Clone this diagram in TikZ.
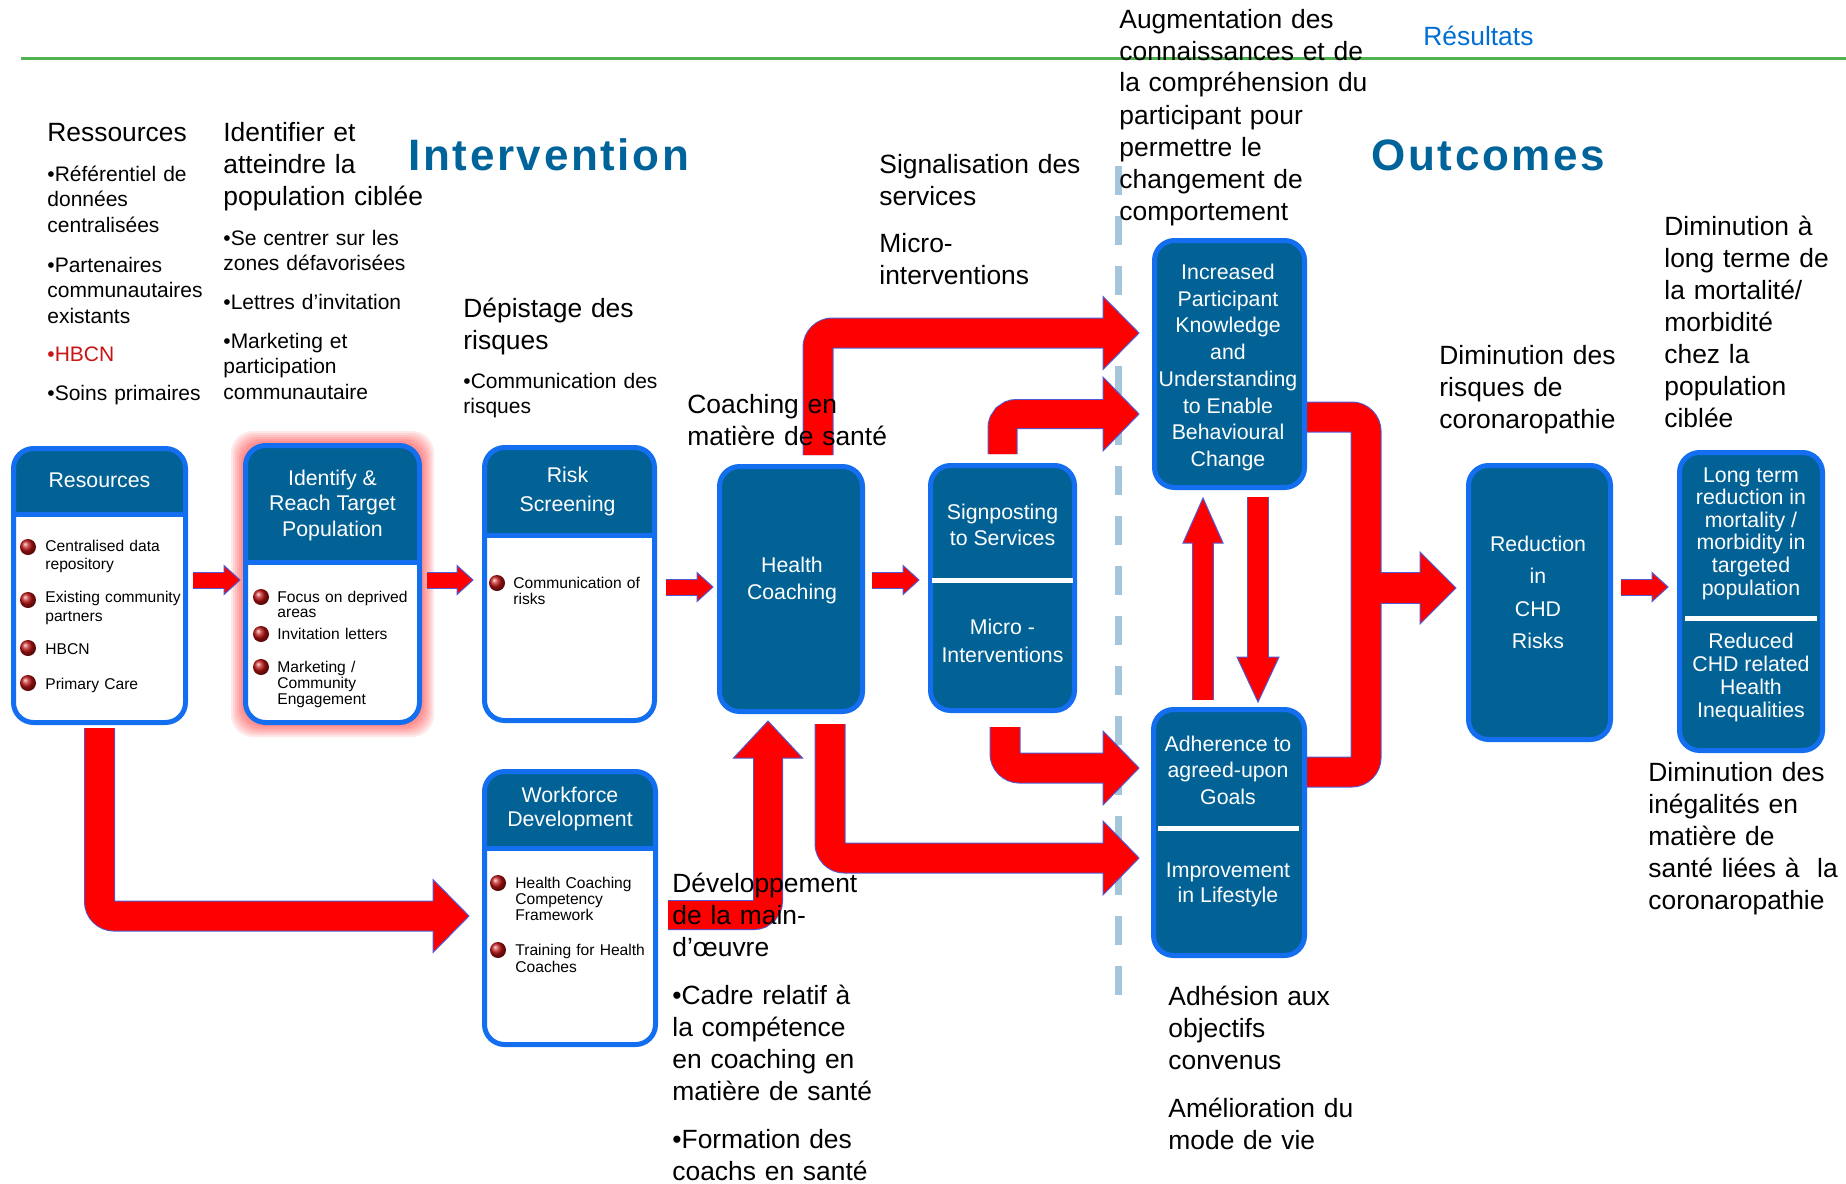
\documentclass[tikz,border=0pt]{standalone}
\usepackage{fontspec}
\setmainfont{Liberation Sans}
\newfontfamily\ttlfont[LetterSpace=6]{Liberation Sans}
\usetikzlibrary{calc}
\pgfdeclarelayer{bgl}
\pgfdeclarelayer{arrl}
\pgfsetlayers{bgl,arrl,main}
\definecolor{hdrc}{RGB}{2,98,150}
\definecolor{bordc}{RGB}{20,110,240}
\definecolor{arrc}{RGB}{255,0,0}
\definecolor{olc}{RGB}{80,90,210}
\definecolor{ttlc}{RGB}{0,100,155}
\definecolor{dashc}{RGB}{165,198,218}
\definecolor{grnc}{RGB}{80,178,80}
\definecolor{hbcnc}{RGB}{200,20,20}
\definecolor{resc}{RGB}{0,110,210}
\definecolor{bulc}{RGB}{190,20,20}
\tikzset{
  mybox/.style={draw=bordc, line width=2.5pt, rounded corners=10pt, inner sep=0pt},
  darkbox/.style={mybox, fill=hdrc},
  headbox/.style={mybox, fill=white, path picture={
      \fill[hdrc, sharp corners] (path picture bounding box.north west) rectangle ([yshift=-#1]path picture bounding box.north east);
      \draw[bordc, line width=2.5pt, sharp corners] ([yshift=-#1]path picture bounding box.north west) -- ([yshift=-#1]path picture bounding box.north east);}},
  wt/.style={text=white, align=center, inner sep=0pt, font=\fontsize{10.65pt}{#1}\selectfont},
  itm/.style={anchor=base west, inner sep=0pt, align=left, text width=95pt, font=\fontsize{7.8pt}{#1}\selectfont},
  bul/.style={circle, minimum size=8pt, inner sep=0pt, ball color=bulc},
  hd/.style={anchor=base west, inner sep=0pt, align=left, text width=170pt, font=\fontsize{13.2pt}{16pt}\selectfont},
  sm/.style={anchor=base west, inner sep=0pt, align=left, text width=120pt, font=\fontsize{10.5pt}{12.75pt}\selectfont},
  ttl/.style={anchor=base west, inner sep=0pt, text=ttlc, font=\ttlfont\bfseries\fontsize{22pt}{26pt}\selectfont},
  headst/.style={fill=arrc, draw=olc, line width=0.5pt, line join=miter},
  olst/.style={draw=olc, line cap=butt},
  redst/.style={draw=arrc, line cap=butt},
}
\newcommand\arrHR[3]{\filldraw[headst] (#1) -- ([shift={(-#2,-#3)}]#1) -- ([shift={(-#2,#3)}]#1) -- cycle;}
\newcommand\arrHU[3]{\filldraw[headst] (#1) -- ([shift={(-#3,#2)}]#1) -- ([shift={(#3,#2)}]#1) -- cycle;}
\newcommand\arrHD[3]{\filldraw[headst] (#1) -- ([shift={(-#3,-#2)}]#1) -- ([shift={(#3,-#2)}]#1) -- cycle;}
\begin{document}
\begin{tikzpicture}[x=0.5pt,y=-0.5pt]
\useasboundingbox (0,0) rectangle (1846,1183);
% ---------- boxes
\node[headbox=32.75pt, minimum width=86pt, minimum height=137pt] (res) at (99.5,585.5) {};
\node[headbox=58.25pt, minimum width=87pt, minimum height=138.5pt] (ident) at (332.5,584) {};
\node[headbox=43.75pt, minimum width=85pt, minimum height=136.5pt] (risk) at (569.5,584) {};
\node[darkbox, minimum width=71.5pt, minimum height=122.5pt] (hc) at (791,589) {};
\node[darkbox, minimum width=72pt, minimum height=122.5pt] (sign) at (1002.5,588) {};
\node[darkbox, minimum width=75pt, minimum height=123.5pt] (inc) at (1229.5,364) {};
\node[darkbox, minimum width=75.5pt, minimum height=123pt] (adh) at (1229,832.5) {};
\node[darkbox, minimum width=71pt, minimum height=137pt] (red) at (1539.5,602.5) {};
\node[darkbox, minimum width=71.5pt, minimum height=149pt] (lt) at (1751,601.5) {};
\node[headbox=38.25pt, minimum width=85.5pt, minimum height=136.5pt] (wf) at (570,908) {};
% white dividers
\draw[white, line width=2.5pt] ($(sign.west)+(4,-8)$) -- ($(sign.east)+(-4,-8)$);
\draw[white, line width=2.5pt] ($(adh.west)+(7,-4.5)$) -- ($(adh.east)+(-8,-4.5)$);
\draw[white, line width=2.5pt] ($(lt.west)+(8,16.5)$) -- ($(lt.east)+(-8,16.5)$);
% ---------- background
\begin{pgfonlayer}{bgl}
\draw[grnc, line width=1.5pt] (21,58) -- (1846,58);
\draw[dashc, line width=3.5pt, dash pattern=on 14.5pt off 10.5pt] (1118,166) -- (1118,995);
\foreach \d in {2,4,...,12}
  \fill[red, opacity=0.09, rounded corners=11pt] ($(ident.south west)+(-\d,\d)$) rectangle ($(ident.north east)+(\d,-\d)$);
\end{pgfonlayer}
% ---------- arrows
\coordinate (ta1) at ($(ident.west)+(-3,-4)$);
\coordinate (ta2) at ($(risk.west)+(-9,-4)$);
\coordinate (ta3) at ($(hc.west)+(-4,-2)$);
\coordinate (ta4) at ($(sign.west)+(-9,-8)$);
\coordinate (ta5) at ($(lt.west)+(-9,-14.5)$);
\coordinate (tA) at ($(wf.west)+(-13,8)$);
\coordinate (tB) at ($(inc.west)+(-13,-31)$);
\coordinate (tC) at ($(inc.west)+(-13,50)$);
\coordinate (tD) at ($(adh.west)+(-12,25.5)$);
\coordinate (tE) at ($(adh.west)+(-12,-64.5)$);
\coordinate (tF) at ($(hc.south)+(-23,7)$);
\coordinate (tG) at ($(inc.south)+(-26.5,8)$);
\coordinate (tH) at ($(adh.north)+(29,-5)$);
\coordinate (tI) at ($(red.west)+(-10,-14.5)$);
\coordinate (barT) at ($(inc.east)+(59,53)$);
\coordinate (barB) at ($(adh.east)+(59,-60.5)$);
\coordinate (barM) at (barT |- tI);
\def\pa{($(res.east)+(5,-5.5)$) -- ($(ta1)+(-13,0)$)}
\def\pb{($(ident.east)+(5,-4)$) -- ($(ta2)+(-13,0)$)}
\def\pc{($(risk.east)+(9,3)$) -- ($(ta3)+(-13,0)$)}
\def\pd{($(hc.east)+(7,-9)$) -- ($(ta4)+(-13,0)$)}
\def\pe{($(red.east)+(8,-15.5)$) -- ($(ta5)+(-13,0)$)}
\def\pA{($(res.south)+(0,3)$) |- ($(tA)+(-33,0)$)}
\def\pB{($(hc.north)+(27,-9)$) |- ($(tB)+(-33,0)$)}
\def\pC{($(sign.north)+(0,-9)$) |- ($(tC)+(-33,0)$)}
\def\pD{($(hc.south)+(39,10)$) |- ($(tD)+(-33,0)$)}
\def\pE{($(sign.south)+(2.5,14)$) |- ($(tE)+(-33,0)$)}
\def\pF{($(wf.east)+(10,7)$) -| ($(tF)+(0,34)$)}
\def\pG{($(adh.north)+(-26,-7)$) -- ($(tG)+(0,42)$)}
\def\pH{($(inc.south)+(28.5,7)$) -- ($(tH)+(0,-42)$)}
\def\pI{($(inc.east)+(0,53)$) -- (barT) -- (barB) -- ($(adh.east)+(0,-60.5)$)}
\def\pJ{(barM) -- ($(tI)+(-33,0)$)}
\begin{pgfonlayer}{arrl}
% outlines
\draw[olst, line width=8.5pt] \pa; \draw[olst, line width=8.5pt] \pb; \draw[olst, line width=8.5pt] \pc;
\draw[olst, line width=8.5pt] \pd; \draw[olst, line width=8.5pt] \pe;
\draw[olst, line width=15.5pt, rounded corners=7.25pt] \pA;
\draw[olst, line width=15.5pt, rounded corners=7.25pt] \pB;
\draw[olst, line width=15pt, rounded corners=7pt] \pC;
\draw[olst, line width=15.5pt, rounded corners=7.25pt] \pD;
\draw[olst, line width=15.5pt, rounded corners=7.25pt] \pE;
\draw[olst, line width=15pt, rounded corners=7pt] \pF;
\draw[olst, line width=11pt] \pG; \draw[olst, line width=11pt] \pH;
\draw[olst, line width=15.5pt, rounded corners=7.25pt] \pI;
\draw[olst, line width=16pt] \pJ;
% heads
\arrHR{ta1}{16}{14.5} \arrHR{ta2}{16}{14.5} \arrHR{ta3}{16}{14.5} \arrHR{ta4}{16}{14.5} \arrHR{ta5}{16}{14.5}
\arrHR{tA}{36}{36.5} \arrHR{tB}{36}{36.5} \arrHR{tC}{36}{37} \arrHR{tD}{36}{37} \arrHR{tE}{36}{37}
\arrHU{tF}{37}{34.5} \arrHU{tG}{45}{20} \arrHD{tH}{45}{21} \arrHR{tI}{36}{36}
% red shafts
\draw[redst, line width=7.5pt] \pa; \draw[redst, line width=7.5pt] \pb; \draw[redst, line width=7.5pt] \pc;
\draw[redst, line width=7.5pt] \pd; \draw[redst, line width=7.5pt] \pe;
\draw[redst, line width=14.5pt, rounded corners=7.25pt] \pA;
\draw[redst, line width=14.5pt, rounded corners=7.25pt] \pB;
\draw[redst, line width=14pt, rounded corners=7pt] \pC;
\draw[redst, line width=14.5pt, rounded corners=7.25pt] \pD;
\draw[redst, line width=14.5pt, rounded corners=7.25pt] \pE;
\draw[redst, line width=14pt, rounded corners=7pt] \pF;
\draw[redst, line width=10pt] \pG; \draw[redst, line width=10pt] \pH;
\draw[redst, line width=14.5pt, rounded corners=7.25pt] \pI;
\draw[redst, line width=15pt] \pJ;
\end{pgfonlayer}
% ---------- box titles
\node[wt=13pt] (tres) at ($(res.north)+(0,34)$) {Resources};
\node[wt=12.75pt] (tident) at ($(ident.north)+(0,62)$) {Identify \&\\Reach Target\\Population};
\node[wt=14.5pt] (trisk) at ($(risk.north)+(-2,46.5)$) {Risk\\Screening};
\node[wt=13.5pt] (thc) at ($(hc.center)+(1,-9)$) {Health\\Coaching};
\node[wt=13pt] (tsign) at ($(sign.north)+(0,62)$) {Signposting\\to Services};
\node[wt=14pt] (tmicro) at ($(sign.north)+(0,178)$) {Micro -\\Interventions};
\node[wt=13.35pt] (tinc) at ($(inc.center)+(-1.5,3.5)$) {Increased\\Participant\\Knowledge\\and\\Understanding\\to Enable\\Behavioural\\Change};
\node[wt=13.25pt] (tadh) at ($(adh.north)+(-1,63)$) {Adherence to\\agreed-upon\\Goals};
\node[wt=12.5pt] (timp) at ($(adh.north)+(-1,178)$) {Improvement\\in Lifestyle};
\node[wt=16.15pt] (tred) at ($(red.center)+(-1.5,-10)$) {Reduction\\in\\CHD\\Risks};
\node[wt=11.3pt] (tlt) at ($(lt.north)+(0,83.5)$) {Long term\\reduction in\\mortality /\\morbidity in\\targeted\\population};
\node[wt=11.5pt] (tlt2) at ($(lt.north)+(0,227.5)$) {Reduced\\CHD related\\Health\\Inequalities};
\node[wt=12pt] (twf) at ($(wf.north)+(0,40)$) {Workforce\\Development};
% ---------- bullets and items
\node[bul] (b1) at (28,547) {};
\node[bul] (b2) at (28,600) {};
\node[bul] (b3) at (28,648) {};
\node[bul] (b4) at (28,683) {};
\node[itm=9pt] (i1) at (45,551.5) {Centralised data\\repository};
\node[itm=9.5pt] (i2) at (45,602.5) {Existing community\\partners};
\node[itm=9pt] (i3) at (45,654.5) {HBCN};
\node[itm=9pt] (i4) at (45,689) {Primary Care};
\node[bul] (b5) at (261,597) {};
\node[bul] (b6) at (261,634) {};
\node[bul] (b7) at (261,667) {};
\node[itm=7.5pt] (i5) at (277,602) {Focus on deprived\\areas};
\node[itm=8pt] (i6) at (277,639) {Invitation letters};
\node[itm=8.15pt] (i7) at (277,672) {Marketing /\\Community\\Engagement};
\node[bul] (b8) at (497,583) {};
\node[itm=8pt] (i8) at (513,588) {Communication of\\risks};
\node[bul] (b9) at (498,883) {};
\node[bul] (b10) at (498,950) {};
\node[itm=8pt] (i9) at (515,888) {Health Coaching\\Competency\\Framework};
\node[itm=8.5pt] (i10) at (515,955) {Training for Health\\Coaches};
% ---------- French texts
\node[hd] (f1) at (47,141) {Ressources};
\node[sm] (f2) at (47,181) {•Référentiel de\\données\\centralisées};
\node[sm] (f3) at (47,272) {•Partenaires\\communautaires\\existants};
\node[sm, text=hbcnc] (f4) at (47,361) {•HBCN};
\node[sm] (f5) at (47,400) {•Soins primaires};
\node[hd] (f6) at (223,141) {Identifier et\\atteindre la\\population ciblée};
\node[sm] (f7) at (223,245) {•Se centrer sur les\\zones défavorisées};
\node[sm] (f8) at (223,309) {•Lettres d’invitation};
\node[sm] (f9) at (223,348) {•Marketing et\\participation\\communautaire};
\node[ttl] (f10) at (408,170) {Intervention};
\node[hd] (f11) at (463,317) {Dépistage des\\risques};
\node[sm] (f12) at (463,388) {•Communication des\\risques};
\node[hd] (f13) at (687,413) {Coaching en\\matière de santé};
\node[hd] (f14) at (879,173) {Signalisation des\\services};
\node[hd] (f15) at (879,252) {Micro-\\interventions};
\node[hd] (f16) at (1119,28) {Augmentation des\\connaissances et de\\la compréhension du\\participant pour\\permettre le\\changement de\\comportement};
\node[hd, text=resc] (f17) at (1423,45) {Résultats};
\node[ttl] (f18) at (1371,170) {Outcomes};
\node[hd] (f19) at (1664,235) {Diminution à\\long terme de\\la mortalité/\\morbidité\\chez la\\population\\ciblée};
\node[hd] (f20) at (1439,364) {Diminution des\\risques de\\coronaropathie};
\node[hd] (f21) at (1648,781) {Diminution des\\inégalités en\\matière de\\santé liées à~ la\\coronaropathie};
\node[hd] (f22) at (672,892) {Développement\\de la main-\\d’œuvre};
\node[hd] (f23) at (672,1004) {•Cadre relatif à\\la compétence\\en coaching en\\matière de santé};
\node[hd] (f24) at (672,1148) {•Formation des\\coachs en santé};
\node[hd] (f25) at (1168,1005) {Adhésion aux\\objectifs\\convenus};
\node[hd] (f26) at (1168,1117) {Amélioration du\\mode de vie};
\end{tikzpicture}
\end{document}
